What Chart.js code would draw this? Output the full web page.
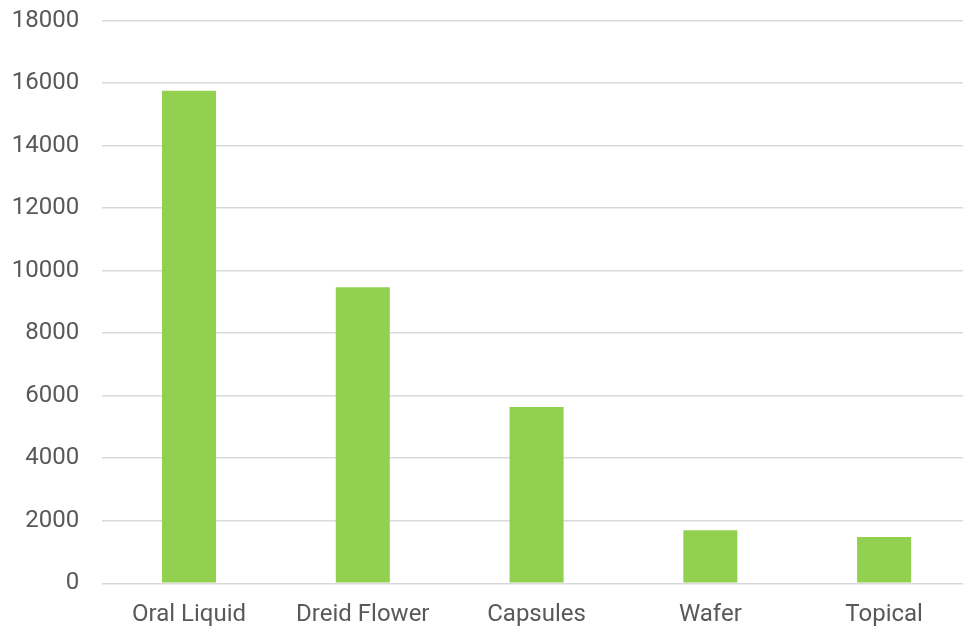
<!DOCTYPE html>
<html>
<head>
<meta charset="utf-8">
<script src="https://cdn.jsdelivr.net/npm/chart.js@4/dist/chart.umd.min.js"></script>
<style>
  html, body { margin: 0; padding: 0; background: #ffffff; overflow: hidden; }
  #wrap { position: relative; width: 971px; height: 629px; }
</style>
</head>
<body>
<div id="wrap"><canvas id="chart"></canvas></div>
<script>
// Product form categories and their counts
const categories = ["Oral Liquid", "Dreid Flower", "Capsules", "Wafer", "Topical"];
const counts = [15750, 9470, 5640, 1700, 1480];
const yTicks = [0, 2000, 4000, 6000, 8000, 10000, 12000, 14000, 16000, 18000];

const textColor = "#595959";
const gridColor = "#d9d9d9";
const fontSpec = { family: "Roboto", size: 24 };

new Chart(document.getElementById("chart"), {
  type: "bar",
  data: {
    labels: categories,
    datasets: [{
      data: counts,
      backgroundColor: "#92d050",
      borderWidth: 0,
      barPercentage: 0.311,
      categoryPercentage: 1.0
    }]
  },
  options: {
    responsive: true,
    maintainAspectRatio: false,
    animation: false,
    layout: { padding: { top: 20.5, left: 11.7, right: 0, bottom: 0 } },
    plugins: {
      legend: { display: false },
      tooltip: { enabled: false }
    },
    scales: {
      x: {
        // invisible tick marks keep a gap between the axis and the labels
        grid: { display: true, drawOnChartArea: false, drawTicks: true, tickLength: 16.9, tickColor: "rgba(0,0,0,0)" },
        border: { display: false },
        ticks: { color: textColor, font: fontSpec, padding: 0, maxRotation: 0 }
      },
      y: {
        min: 0,
        max: 18000,
        afterBuildTicks: (axis) => { axis.ticks = yTicks.map(v => ({ value: v })); },
        grid: { color: gridColor, lineWidth: 1.5, drawTicks: true, tickLength: 23, tickColor: "rgba(0,0,0,0)" },
        border: { display: false },
        ticks: { color: textColor, font: fontSpec, padding: 0, callback: (v) => String(v) }
      }
    }
  }
});
</script>
</body>
</html>
